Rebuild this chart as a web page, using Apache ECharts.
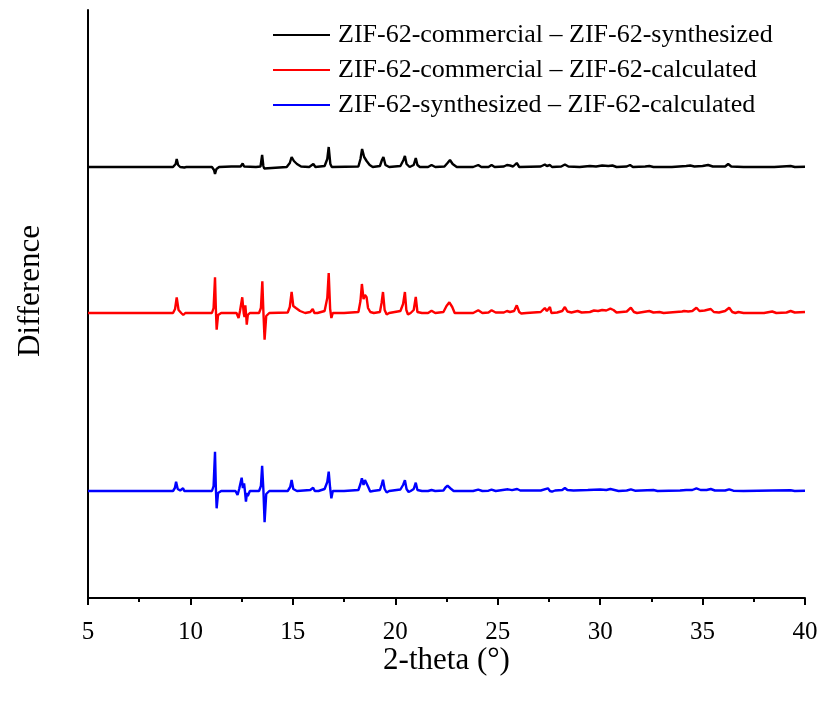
<!DOCTYPE html>
<html>
<head>
<meta charset="utf-8">
<title>ZIF-62 difference patterns</title>
<script src="https://cdn.jsdelivr.net/npm/echarts@6/dist/echarts.min.js"></script>
<style>
  html, body { margin: 0; padding: 0; background: #fff; }
  #chart { width: 822px; height: 702px; }
</style>
</head>
<body>
<div id="chart"></div>
<script>
// difference curves: [2-theta, difference (a.u.)]
const commercialMinusSynthesized = [
  [5, 0], [9.15, 0], [9.28, 3], [9.33, 8], [9.4, 2], [9.5, 0], [9.7, -0.5], [9.8, 0],
  [11.05, 0], [11.15, -3], [11.2, -7], [11.27, -2], [11.4, 0], [12.0, 0.5], [12.45, 0.5], [12.55, 3.5],
  [12.62, 0.5], [13.2, 0], [13.42, 0.5], [13.5, 12], [13.56, 1], [13.6, -1.5], [13.68, 0],
  [14.7, 0], [14.85, 4], [14.94, 10], [15.05, 6], [15.2, 3], [15.4, 0.5], [15.8, 0], [16.0, 3], [16.1, 0],
  [16.55, 1], [16.68, 8], [16.75, 20], [16.83, 3], [16.9, 0], [18.2, 0.5], [18.3, 8], [18.38, 18],
  [18.48, 10], [18.6, 6], [18.75, 2], [18.9, 0], [19.25, 1], [19.35, 7], [19.42, 10], [19.52, 2], [19.7, 0],
  [20.25, 1], [20.4, 7], [20.47, 11], [20.55, 3], [20.7, 0], [20.9, 2], [21.0, 9], [21.08, 2], [21.2, 0],
  [21.6, 0], [21.77, 2], [21.95, 0], [22.4, 0.5], [22.55, 4], [22.67, 7], [22.8, 3], [23.0, 0],
  [23.8, 0], [24.05, 2], [24.2, 0], [24.55, 0], [24.7, 2], [24.85, 0], [25.3, 0.5], [25.45, 2],
  [25.6, 1.5], [25.75, 0.5], [25.93, 4], [26.05, 0], [27.1, 0.5], [27.3, 2.5], [27.4, 1], [27.55, 2],
  [27.65, 0], [28.1, 0.5], [28.28, 2.5], [28.45, 0.5], [29.0, 0], [29.5, 1], [29.8, 0.5], [30.1, 1.5],
  [30.4, 1], [30.6, 1.5], [30.8, 0], [31.3, 0.5], [31.46, 2], [31.6, 0], [32.2, 0.5], [32.4, 1], [32.6, 0],
  [33.5, 0], [34.2, 1], [34.4, 1.5], [34.6, 0.5], [35.0, 1], [35.27, 2], [35.5, 0.5], [36.1, 0.5],
  [36.25, 3], [36.4, 0.5], [37, 0], [38.5, 0], [39.3, 1], [39.5, 0], [40, 0.3]
];

const commercialMinusCalculated = [
  [5, 0], [9.15, 0], [9.25, 4], [9.33, 15.7], [9.42, 3], [9.55, 0], [9.65, -2], [9.75, 0],
  [11.05, 0], [11.13, 5], [11.2, 35.7], [11.24, 5], [11.28, -16.7], [11.35, -2], [11.5, 0],
  [12.25, 0], [12.35, -5], [12.42, 2], [12.53, 15.7], [12.6, 0], [12.64, -4], [12.68, 7.7], [12.72, -2],
  [12.75, -11.7], [12.8, -2], [12.9, 0], [13.35, 0], [13.44, 5], [13.51, 31.7], [13.56, 2],
  [13.62, -26.7], [13.7, -3], [13.85, 0],
  [14.75, 0.5], [14.85, 6], [14.94, 21], [15.02, 7], [15.15, 5], [15.35, 2], [15.6, 0], [15.85, 1],
  [15.97, 4], [16.05, 0], [16.1, -1.7], [16.2, 0], [16.55, 2], [16.68, 15], [16.75, 40], [16.82, 4],
  [16.88, -5], [16.95, 0], [17.5, 0], [18.2, 1], [18.3, 12], [18.37, 29], [18.45, 14], [18.52, 18],
  [18.6, 15.7], [18.67, 5], [18.78, 1], [18.85, -1], [18.95, 0], [19.25, 1], [19.33, 10], [19.4, 21],
  [19.48, 3], [19.58, -1.5], [19.7, 0], [20.25, 2], [20.38, 9], [20.47, 21], [20.54, 3], [20.62, -1.5],
  [20.75, 0], [20.9, 3], [21.0, 16], [21.08, 1], [21.15, -1], [21.3, 0], [21.6, 0], [21.77, 2.3],
  [21.95, 0], [22.35, 1], [22.5, 7], [22.64, 10.7], [22.78, 6], [22.9, 0], [23.8, 0], [24.05, 2.7],
  [24.25, 0], [24.55, 0.5], [24.7, 2.7], [24.9, 0.5], [25.3, 0.5], [25.45, 2], [25.6, 1], [25.8, 2],
  [25.93, 7.7], [26.05, 1], [26.15, -0.5], [26.4, 0], [27.1, 1], [27.3, 5], [27.4, 2], [27.55, 6],
  [27.62, 0], [27.7, -1], [27.9, 0.5], [28.15, 2], [28.28, 6], [28.4, 1.5], [28.6, 0.5], [28.9, 2],
  [29.1, 0.5], [29.5, 1], [29.7, 2.5], [29.9, 2], [30.1, 3], [30.3, 2.5], [30.5, 4.3], [30.65, 3],
  [30.8, 0.5], [31.3, 1.5], [31.5, 5.3], [31.65, 1], [31.8, 0], [32.4, 2], [32.6, 0.5], [32.9, 1],
  [33.1, 0], [34.0, 1.5], [34.1, 2], [34.3, 1.5], [34.5, 2], [34.7, 5.3], [34.85, 2], [35.1, 2.5],
  [35.4, 4], [35.55, 1], [35.8, 0.5], [36.1, 2], [36.3, 5.3], [36.45, 1], [36.6, 0], [36.75, 1],
  [37, 0], [38.0, 0], [38.4, 1.5], [38.6, 0], [39.1, 0.5], [39.3, 2], [39.5, 0.5], [40, 1]
];

const synthesizedMinusCalculated = [
  [5, 0], [9.15, 0], [9.24, 3], [9.3, 9.3], [9.38, 2], [9.5, 0.5], [9.64, 2.7], [9.7, 0], [9.75, -2],
  [9.85, 0], [11.05, 0], [11.13, 5], [11.2, 39.3], [11.24, 4], [11.28, -17.3], [11.35, -2], [11.5, 0],
  [12.2, 0], [12.3, -4], [12.38, 2], [12.5, 13.3], [12.56, 3], [12.62, 7.7], [12.66, 0], [12.71, -10.7],
  [12.76, -2], [12.8, -5], [12.9, 0], [13.35, 0], [13.44, 5], [13.5, 25.3], [13.56, 2], [13.62, -31.3],
  [13.7, -3], [13.85, 0], [14.75, 0], [14.87, 4], [14.94, 11], [15.02, 2], [15.2, 0], [15.85, 1],
  [15.99, 3.3], [16.07, 0], [16.13, -1.5], [16.25, 0], [16.55, 2], [16.68, 9], [16.75, 19.3],
  [16.82, 3], [16.88, -7.3], [16.95, 0], [17.5, 0], [18.2, 1], [18.3, 7], [18.37, 12.7], [18.45, 6],
  [18.52, 11], [18.6, 12], [18.68, 4], [18.78, -0.7], [18.9, 0], [19.25, 1], [19.33, 6], [19.4, 11.3],
  [19.48, 2], [19.58, -1.5], [19.7, 0], [20.25, 1.5], [20.38, 6], [20.47, 10.7], [20.55, 2], [20.65, -1],
  [20.75, 0], [20.9, 2], [21.0, 8.3], [21.08, 1], [21.15, -0.7], [21.3, 0], [21.6, 0], [21.77, 1],
  [21.95, 0], [22.35, 0.5], [22.45, 3.5], [22.55, 5.3], [22.7, 2.5], [22.85, 0], [23.8, 0], [24.05, 1.3],
  [24.25, 0], [24.55, 0.3], [24.7, 1.3], [24.9, 0], [25.5, 1.7], [25.7, 0.8], [25.95, 2], [26.1, 0.5],
  [27.1, 0.5], [27.45, 2.7], [27.55, 0], [27.65, -0.7], [27.8, 0.5], [28.15, 1], [28.28, 3], [28.4, 1],
  [28.7, 0.5], [29.4, 1], [29.7, 1.3], [30.0, 1.5], [30.3, 1], [30.5, 2], [30.7, 1], [30.9, 0],
  [31.3, 0.5], [31.5, 1.7], [31.7, 0.3], [32.6, 1], [32.8, 0], [33.9, 0.5], [34.2, 1], [34.5, 1],
  [34.7, 2.7], [34.9, 1], [35.2, 1], [35.4, 2], [35.6, 0.5], [36.1, 0.5], [36.3, 1.7], [36.5, 0.3],
  [37, 0], [38.4, 0.5], [39.3, 0.7], [39.5, 0], [40, 0.3]
];

const seriesNames = [
  'ZIF-62-commercial \u2013 ZIF-62-synthesized',
  'ZIF-62-commercial \u2013 ZIF-62-calculated',
  'ZIF-62-synthesized \u2013 ZIF-62-calculated'
];
// vertical stacking offsets of the curves
const offsets = [431, 285, 107];
const colors = ['#000000', '#ff0000', '#0000ff'];

const curves = [commercialMinusSynthesized, commercialMinusCalculated, synthesizedMinusCalculated];
const serif = 'Liberation Serif, Times New Roman, serif';

const chart = echarts.init(document.getElementById('chart'));

chart.setOption({
  animation: false,
  backgroundColor: '#fff',
  grid: { left: 88, right: 17, top: 10, bottom: 104 },
  legend: {
    orient: 'vertical',
    left: 273,
    top: 22,
    padding: 0,
    icon: 'rect',
    itemWidth: 57,
    itemHeight: 2,
    itemGap: 9,
    textStyle: { fontFamily: serif, fontSize: 26, color: '#000', padding: [0, 0, 0, 3] },
    data: seriesNames
  },
  xAxis: {
    type: 'value',
    min: 5,
    max: 40,
    interval: 5,
    name: '2-theta (\u00b0)',
    nameLocation: 'middle',
    nameGap: 47,
    nameMoveOverlap: false,
    nameTextStyle: { fontFamily: serif, fontSize: 31, color: '#000' },
    axisLine: { onZero: false, lineStyle: { color: '#000', width: 2 } },
    axisTick: { inside: false, length: 7, lineStyle: { color: '#000', width: 2 } },
    minorTick: { show: true, splitNumber: 2, length: 4, lineStyle: { color: '#000', width: 2 } },
    axisLabel: { fontFamily: serif, fontSize: 25, color: '#000', margin: 22 },
    splitLine: { show: false }
  },
  yAxis: {
    type: 'value',
    min: 0,
    max: 588,
    name: 'Difference',
    nameLocation: 'middle',
    nameGap: 42,
    nameTextStyle: { fontFamily: serif, fontSize: 31, color: '#000', padding: [0, 0, 0, 26] },
    axisLine: { show: true, lineStyle: { color: '#000', width: 2 } },
    axisTick: { show: false },
    axisLabel: { show: false },
    splitLine: { show: false }
  },
  series: curves.map((pts, i) => ({
    name: seriesNames[i],
    type: 'line',
    symbol: 'none',
    color: colors[i],
    lineStyle: { color: colors[i], width: 2.4 },
    data: pts.map(p => [p[0], p[1] + offsets[i]])
  }))
});
</script>
</body>
</html>
